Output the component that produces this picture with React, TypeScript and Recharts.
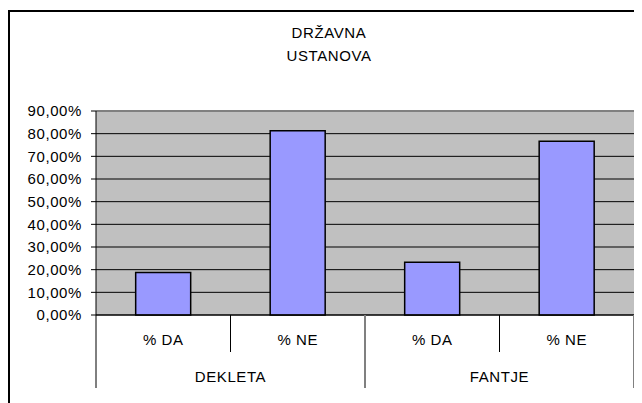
import React from 'react';
import {
  BarChart,
  Bar,
  XAxis,
  YAxis,
  CartesianGrid,
  ReferenceLine,
} from 'recharts';

const categories = ['% DA', '% NE', '% DA', '% NE'];
const groups = ['DEKLETA', 'DEKLETA', 'FANTJE', 'FANTJE'];
const values = [18.7, 81.3, 23.3, 76.7];
const yTicks = [0, 10, 20, 30, 40, 50, 60, 70, 80, 90];
const titleLines = ['DRŽAVNA', 'USTANOVA'];

const CHART_W = 634;
const CHART_H = 395;
const MARGIN = { top: 103, right: 8, left: 0, bottom: 0 };
const Y_AXIS_W = 88;
const X_AXIS_H = 88;
const PLOT_W = CHART_W - MARGIN.left - MARGIN.right - Y_AXIS_W;
const HALF_BAND = PLOT_W / categories.length / 2;

const FONT = '"Liberation Sans", Arial, sans-serif';
const FS = 15;
const LS = 0.6;

const data = categories.map((label, i) => ({
  label,
  group: groups[i],
  value: values[i],
}));

const fmtPct = (v: number) => v.toFixed(2).replace('.', ',') + '%';

const XTick = (props: any) => {
  const { x, y, index, payload } = props;
  const left = x - HALF_BAND;
  const groupStart = index === 0 || groups[index] !== groups[index - 1];
  const isLast = index === categories.length - 1;
  const groupCount = groups.filter((g) => g === groups[index]).length;

  return (
    <g>
      <text
        x={x}
        y={y + 30}
        textAnchor="middle"
        fontSize={FS}
        letterSpacing={LS}
        fontFamily={FONT}
        fill="#000"
      >
        {payload.value}
      </text>
      {!groupStart && (
        <line x1={left} y1={y} x2={left} y2={y + 37} stroke="#000" strokeWidth={1} />
      )}
      {groupStart && (
        <>
          <line
            x1={left}
            y1={y}
            x2={left}
            y2={y + 73}
            stroke={index === 0 ? '#000' : '#808080'}
            strokeWidth={index === 0 ? 1 : 2}
          />
          <text
            x={left + groupCount * HALF_BAND}
            y={y + 67}
            textAnchor="middle"
            fontSize={FS}
            letterSpacing={LS}
            fontFamily={FONT}
            fill="#000"
          >
            {groups[index]}
          </text>
        </>
      )}
      {isLast && (
        <line
          x1={x + HALF_BAND}
          y1={y}
          x2={x + HALF_BAND}
          y2={y + 73}
          stroke="#808080"
          strokeWidth={2}
        />
      )}
    </g>
  );
};

export default function App() {
  return (
    <div
      style={{
        position: 'relative',
        width: CHART_W,
        height: CHART_H,
        fontFamily: FONT,
        overflow: 'hidden',
      }}
    >
      <div
        style={{
          position: 'absolute',
          left: 0,
          top: 2,
          width: CHART_W + 10,
          height: CHART_H + 10,
          borderTop: '2px solid #000',
          borderLeft: '2px solid #000',
          boxSizing: 'border-box',
        }}
      />
      <div
        style={{
          position: 'absolute',
          left: 221,
          width: 200,
          top: 13,
          textAlign: 'center',
          fontSize: FS,
          letterSpacing: LS,
          lineHeight: '23px',
          color: '#000',
        }}
      >
        {titleLines.map((t) => (
          <div key={t}>{t}</div>
        ))}
      </div>
      <div style={{ position: 'absolute', left: 0, top: 0 }}>
        <BarChart
          width={CHART_W}
          height={CHART_H}
          data={data}
          margin={MARGIN}
          barCategoryGap="29.5%"
        >
          <CartesianGrid
            vertical={false}
            stroke="#000"
            strokeOpacity={1}
            fill="#C0C0C0"
            fillOpacity={1}
          />
          <ReferenceLine y={90} stroke="#808080" strokeWidth={2} />
          <XAxis
            dataKey="label"
            height={X_AXIS_H}
            tickSize={0}
            tickMargin={0}
            tickLine={false}
            axisLine={{ stroke: '#000', strokeWidth: 1 }}
            interval={0}
            tick={<XTick />}
          />
          <YAxis
            width={Y_AXIS_W}
            domain={[0, 90]}
            ticks={yTicks}
            interval={0}
            tickSize={5}
            tickMargin={9}
            tickFormatter={fmtPct}
            axisLine={{ stroke: '#000', strokeWidth: 1 }}
            tickLine={{ stroke: '#000', strokeWidth: 1 }}
            tick={{ fontSize: FS, fontFamily: FONT, fill: '#000', letterSpacing: LS }}
          />
          <YAxis
            yAxisId="frame"
            orientation="right"
            width={0}
            domain={[0, 90]}
            tick={false}
            tickLine={false}
            axisLine={{ stroke: '#808080', strokeWidth: 2 }}
          />
          <Bar
            dataKey="value"
            fill="#9999FF"
            stroke="#000"
            strokeWidth={1.5}
            isAnimationActive={false}
          />
        </BarChart>
      </div>
    </div>
  );
}
